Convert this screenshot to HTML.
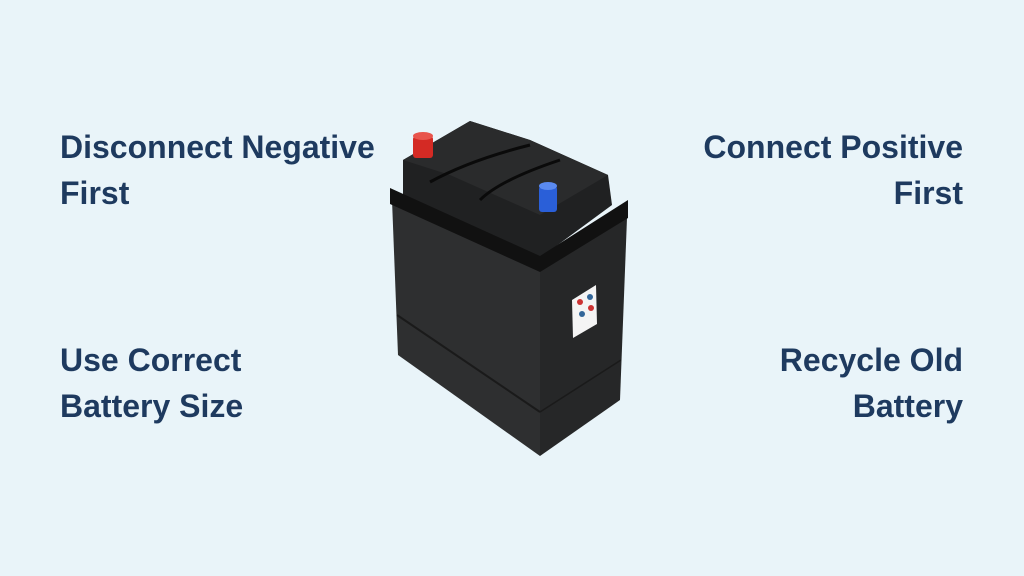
<!DOCTYPE html>
<html><head><style>
body{margin:0;width:1024px;height:576px;background:#e9f4f9;overflow:hidden;position:relative;font-family:"Liberation Sans",sans-serif;}
.t{position:absolute;font-weight:bold;font-size:32px;line-height:46px;color:#1e3a5f;}
.l{left:60px;text-align:left}
.r{right:61px;text-align:right}
</style></head><body>
<div class="t l" style="top:124px">Disconnect Negative<br>First</div>
<div class="t r" style="top:124px">Connect Positive<br>First</div>
<div class="t l" style="top:337px">Use Correct<br>Battery Size</div>
<div class="t r" style="top:337px">Recycle Old<br>Battery</div>
<svg style="position:absolute;left:0;top:0" width="1024" height="576">
<!-- lid top -->
<polygon points="403,160 470,121 530,140 608,175 612,205 540,258 403,195" fill="#202122"/>
<polygon points="403,160 470,121 530,140 608,175 540,215 450,175" fill="#2a2b2c"/>
<path d="M430,182 Q470,160 530,145 M480,200 Q500,180 560,160" stroke="#0a0a0a" stroke-width="3" fill="none"/>
<!-- front face -->
<polygon points="392,200 540,268 540,456 398,355" fill="#2e2f30"/>
<!-- right face -->
<polygon points="540,268 627,218 620,400 540,456" fill="#262728"/>
<line x1="397" y1="315" x2="540" y2="412" stroke="#1a1a1a" stroke-width="2"/>
<line x1="540" y1="412" x2="621" y2="360" stroke="#1a1a1a" stroke-width="1.5"/>
<!-- lid rim -->
<polygon points="390,188 540,256 628,200 628,218 540,272 390,204" fill="#111"/>
<!-- terminals -->
<rect x="413" y="136" width="20" height="22" rx="3" fill="#d42a24"/>
<ellipse cx="423" cy="136" rx="10" ry="4" fill="#e8544c"/>
<rect x="539" y="186" width="18" height="26" rx="3" fill="#2a5fd8"/>
<ellipse cx="548" cy="186" rx="9" ry="4" fill="#5a8af0"/>
<!-- label -->
<polygon points="572,300 596,285 597,324 573,338" fill="#f4f4f4"/>
<circle cx="580" cy="302" r="3" fill="#c33"/><circle cx="590" cy="297" r="3" fill="#369"/>
<circle cx="582" cy="314" r="3" fill="#369"/><circle cx="591" cy="308" r="3" fill="#c33"/>
</svg>
</body></html>
